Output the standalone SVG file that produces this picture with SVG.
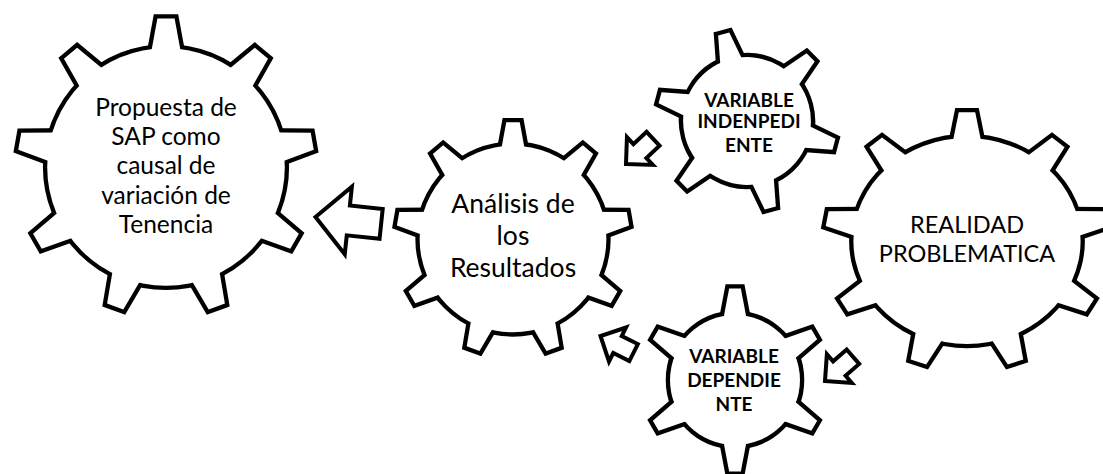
<svg xmlns="http://www.w3.org/2000/svg" width="1103" height="474" viewBox="0 0 1103 474">
<style>
.ol{fill:#000;stroke:#000;stroke-width:8.6;stroke-linejoin:miter}
.fl{fill:#fff;stroke:none}
.t{font-family:Lato,"Liberation Sans",sans-serif;fill:#000;text-anchor:middle}
.tb{font-family:Lato,"Liberation Sans",sans-serif;font-weight:bold;fill:#000;text-anchor:middle}
.arr{fill:#fff;stroke:#000;stroke-width:4;stroke-linejoin:miter}
</style>
<defs>
<polygon id="t9" vector-effect="non-scaling-stroke" points="-5.8,-100 5.8,-100 15,-50 -15,-50"/>
<g id="g9">
<circle vector-effect="non-scaling-stroke" r="80"/>
<use href="#t9"/>
<use href="#t9" transform="rotate(40)"/>
<use href="#t9" transform="rotate(80)"/>
<use href="#t9" transform="rotate(120)"/>
<use href="#t9" transform="rotate(160)"/>
<use href="#t9" transform="rotate(200)"/>
<use href="#t9" transform="rotate(240)"/>
<use href="#t9" transform="rotate(280)"/>
<use href="#t9" transform="rotate(320)"/>
</g>
<polygon id="t6" vector-effect="non-scaling-stroke" points="-6.4,-100 6.4,-100 17.8,-40 -17.8,-40"/>
<g id="g6">
<circle vector-effect="non-scaling-stroke" r="71"/>
<use href="#t6"/>
<use href="#t6" transform="rotate(60)"/>
<use href="#t6" transform="rotate(120)"/>
<use href="#t6" transform="rotate(180)"/>
<use href="#t6" transform="rotate(240)"/>
<use href="#t6" transform="rotate(300)"/>
</g>
<polygon id="arS" points="0,0 -19,-19 -19,-9.5 -37,-9.5 -37,9.5 -19,9.5 -19,19"/>
</defs>

<g id="propuesta">
<use href="#g9" class="ol" transform="translate(166,167) scale(1.485)"/>
<use href="#g9" class="fl" transform="translate(166,167) scale(1.485)"/>
<text class="t" font-size="24.5" x="166"><tspan x="166" y="116">Propuesta de</tspan><tspan x="166" y="145.2">SAP como</tspan><tspan x="166" y="174.4">causal de</tspan><tspan x="166" y="203.6">variación de</tspan><tspan x="166" y="232.8">Tenencia</tspan></text>
</g>

<g id="analisis">
<use href="#g9" class="ol" transform="translate(513,239) scale(1.167)"/>
<use href="#g9" class="fl" transform="translate(513,239) scale(1.167)"/>
<text class="t" font-size="26.5"><tspan x="513" y="213">Análisis de</tspan><tspan x="513" y="245">los</tspan><tspan x="513" y="277">Resultados</tspan></text>
</g>

<g id="realidad">
<use href="#g9" class="ol" transform="translate(967,241) scale(1.42,1.287)"/>
<use href="#g9" class="fl" transform="translate(967,241) scale(1.42,1.287)"/>
<text class="t" font-size="23.5"><tspan x="967" y="233">REALIDAD</tspan><tspan x="967" y="262">PROBLEMATICA</tspan></text>
</g>

<g id="independiente">
<use href="#g6" class="ol" transform="translate(747,121) rotate(-15) scale(0.9)"/>
<use href="#g6" class="fl" transform="translate(747,121) rotate(-15) scale(0.9)"/>
<text class="tb" font-size="19"><tspan x="749" y="106.7">VARIABLE</tspan><tspan x="749" y="128.3">INDENPEDI</tspan><tspan x="749" y="151.7">ENTE</tspan></text>
</g>

<g id="dependiente">
<use href="#g6" class="ol" transform="translate(735,380) scale(0.915)"/>
<use href="#g6" class="fl" transform="translate(735,380) scale(0.915)"/>
<text class="tb" font-size="19"><tspan x="734" y="363.3">VARIABLE</tspan><tspan x="734" y="387">DEPENDIE</tspan><tspan x="734" y="410.7">NTE</tspan></text>
</g>

<g id="connectors">
<polygon class="arr" points="0,0 -33,-34 -33,-15 -66,-15 -66,15 -33,15 -33,34" transform="translate(315.5,217) rotate(186)"/>
<use href="#arS" class="arr" transform="translate(626,164) rotate(137)"/>
<use href="#arS" class="arr" transform="translate(600.5,336) rotate(206.6)"/>
<use href="#arS" class="arr" transform="translate(825,381) rotate(139)"/>
</g>
</svg>
